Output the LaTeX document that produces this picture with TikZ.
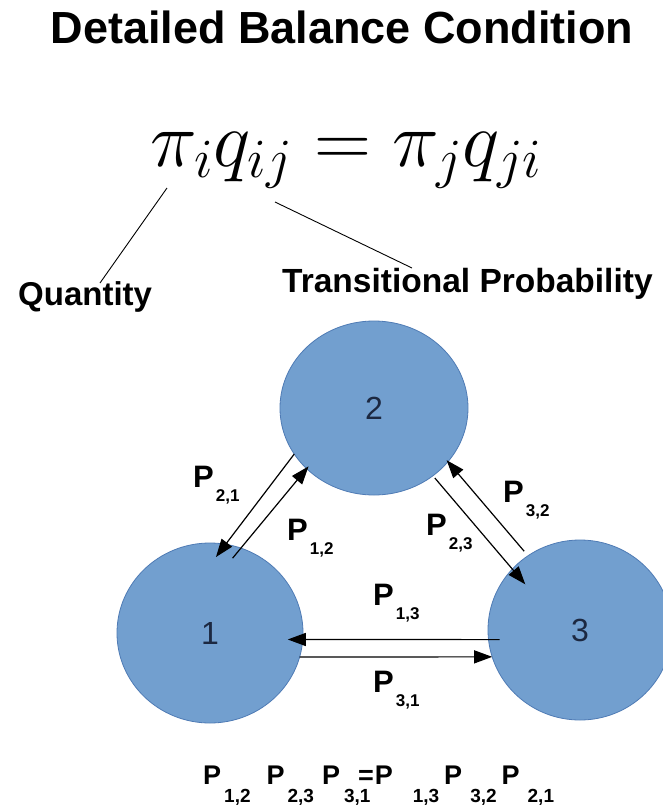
\RequirePackage{fix-cm}
\documentclass[tikz,border=0pt]{standalone}
\usepackage[no-math]{fontspec}
\usepackage{amsmath}
\usetikzlibrary{arrows.meta,shapes.geometric}
\newfontfamily\arialfont{Liberation Sans}
\definecolor{stateblue}{HTML}{729FCF}
\definecolor{stateline}{HTML}{4F7BB5}
\definecolor{digit}{HTML}{1C2841}
\newcommand{\prob}[1]{P\kern2pt\raisebox{-14pt}{\fontsize{17}{17}\selectfont#1}}
\newcommand{\lowsub}[1]{\raisebox{-18pt}{\fontsize{19}{19}\selectfont#1}}
\tikzset{
  state/.style={ellipse, fill=stateblue, draw=stateline, line width=0.8pt,
    inner sep=0pt, outer sep=0pt, text=digit,
    font=\arialfont\fontsize{32}{34}\selectfont},
  lbl/.style={inner sep=0pt, anchor=base west,
    font=\arialfont\bfseries\fontsize{31}{34}\selectfont},
  arr/.style={-{Triangle[length=18pt,width=13pt]}, line width=1.2pt},
  pointer/.style={line width=0.9pt}
}

\begin{document}
\begin{tikzpicture}[x=1pt,y=-1pt]
  \useasboundingbox[fill=white] (0,0) rectangle (663,806);
  \node[anchor=base, inner sep=0pt, font=\arialfont\bfseries\fontsize{45}{48}\selectfont]
    (title) at (342,43) {Detailed Balance Condition};
  \node[anchor=base, inner sep=0pt, font=\fontsize{79}{86}\selectfont]
    (eq) at (346,166) {$\pi_i q_{ij} = \pi_j q_{ji}$};
  \node[lbl, font=\arialfont\bfseries\fontsize{33}{36}\selectfont]
    (qty) at (18,305) {Quantity};
  \node[lbl, font=\arialfont\bfseries\fontsize{33.5}{36}\selectfont]
    (trans) at (282,292) {Transitional Probability};
  \coordinate (piTip) at (167,188);
  \coordinate (qTip) at (275,202);
  \coordinate (qtyTip) at (100,283);
  \coordinate (transTip) at (412,268);
  \draw[pointer] (piTip) -- (qtyTip);
  \draw[pointer] (qTip) -- (transTip);

  % the three states
  \node[state, minimum width=186pt, minimum height=180pt] (s1) at (210,633) {1};
  \node[state, minimum width=188pt, minimum height=174pt] (s2) at (374,408) {2};
  \node[state, minimum width=184pt, minimum height=180pt] (s3) at (580,630) {3};

  \draw[arr, shorten >=-16pt] (s2.210) -- (s1.80);
  \draw[arr, shorten <=-13pt, shorten >=-3pt] (s1.70) -- (s2.222);
  \draw[arr, shorten <=3pt, shorten >=-20pt] (s2.311) -- (s3.138);
  \draw[arr, shorten <=6pt, shorten >=-2pt] (s3.125) -- (s2.324);
  \draw[arr, shorten <=-11pt, shorten >=-15pt] (s3.186) -- (s1.356);
  \draw[arr] (s1.345) -- (s3.197);

  \node[lbl] (p21) at (193,487) {\prob{2,1}};
  \node[lbl] (p12) at (287,540) {\prob{1,2}};
  \node[lbl] (p23) at (426,535) {\prob{2,3}};
  \node[lbl] (p32) at (503,502) {\prob{3,2}};
  \node[lbl] (p13) at (373,605) {\prob{1,3}};
  \node[lbl] (p31) at (373,692) {\prob{3,1}};

  \node[lbl, font=\arialfont\bfseries\fontsize{27}{30}\selectfont] (cycle) at (203,784)
    {P\kern3pt\lowsub{1,2}\kern16pt P\kern3pt\lowsub{2,3}\kern8pt
     P\kern4pt\rlap{\lowsub{3,1}}\kern14pt=\kern1pt P\kern20pt\lowsub{1,3}\kern5pt
     P\kern8pt\lowsub{3,2}\kern5pt P\kern8pt\lowsub{2,1}};
\end{tikzpicture}
\end{document}
